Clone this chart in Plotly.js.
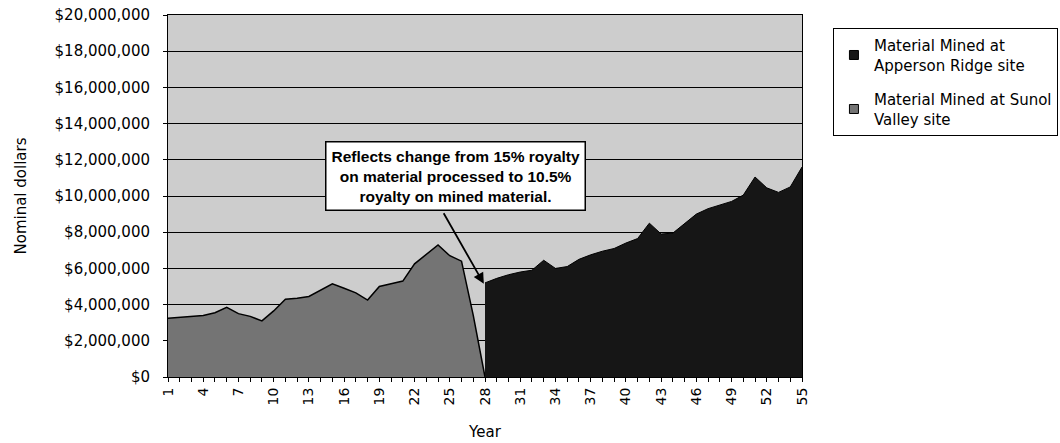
<!DOCTYPE html>
<html>
<head>
<meta charset="utf-8">
<script src="https://cdn.plot.ly/plotly-3.0.1.min.js"></script>
<style>
  html, body { margin: 0; padding: 0; background: #ffffff; }
  #chart { width: 1060px; height: 443px; }
</style>
</head>
<body>
<div id="chart"></div>
<script>
// Sunol Valley site (gray area), years 1-28 (drops to zero at year 28)
var sunolYears = [1, 2, 3, 4, 5, 6, 7, 8, 9, 10, 11, 12, 13, 14, 15, 16, 17, 18, 19, 20, 21, 22, 23, 24, 25, 26, 27, 28];
var sunolValues = [3250000, 3300000, 3350000, 3400000, 3550000, 3850000, 3500000, 3350000, 3100000, 3650000,
                   4300000, 4350000, 4450000, 4800000, 5150000, 4900000, 4650000, 4250000, 5000000, 5150000,
                   5300000, 6250000, 6750000, 7300000, 6700000, 6400000, 3400000, 0];

// Apperson Ridge site (black area), years 28-55
var appersonYears = [28, 29, 30, 31, 32, 33, 34, 35, 36, 37, 38, 39, 40, 41, 42, 43, 44, 45, 46, 47, 48, 49, 50, 51, 52, 53, 54, 55];
var appersonValues = [5200000, 5450000, 5650000, 5800000, 5900000, 6450000, 6000000, 6100000, 6500000, 6750000,
                      6950000, 7100000, 7400000, 7650000, 8500000, 7900000, 7950000, 8500000, 9000000, 9300000,
                      9500000, 9700000, 10050000, 11050000, 10450000, 10200000, 10500000, 11600000];

var xTickVals = [1, 4, 7, 10, 13, 16, 19, 22, 25, 28, 31, 34, 37, 40, 43, 46, 49, 52, 55];
var xTickText = ['1', '4', '7', '10', '13', '16', '19', '22', '25', '28', '31', '34', '37', '40', '43', '46', '49', '52', '55'];

var seriesNames = ['Material Mined at<br>Apperson Ridge site', 'Material Mined at Sunol<br>Valley site'];
var annotationText = 'Reflects change from 15% royalty<br>on material processed to 10.5%<br>royalty on mined material.';

var grayFill = '#747474';
var blackFill = '#161616';
var FONT = 'DejaVu Sans, Liberation Sans, Arial, sans-serif';

var traces = [
  {
    type: 'scatter', mode: 'lines', x: sunolYears, y: sunolValues,
    fill: 'tozeroy', fillcolor: grayFill,
    line: { color: '#000000', width: 1.5 },
    name: seriesNames[1], showlegend: false, hoverinfo: 'skip'
  },
  {
    type: 'scatter', mode: 'lines', x: appersonYears, y: appersonValues,
    fill: 'tozeroy', fillcolor: blackFill,
    line: { color: '#000000', width: 1 },
    name: seriesNames[0], showlegend: false, hoverinfo: 'skip'
  },
  {
    type: 'scatter', mode: 'markers', x: [null], y: [null],
    marker: { symbol: 'square', size: 9, color: blackFill, line: { color: '#000', width: 1 } },
    name: seriesNames[0], legendgroup: 'a', showlegend: true
  },
  {
    type: 'scatter', mode: 'markers', x: [null], y: [null],
    marker: { symbol: 'square', size: 9, color: grayFill, line: { color: '#000', width: 1 } },
    name: seriesNames[1], legendgroup: 'b', showlegend: true
  }
];

var layout = {
  width: 1060, height: 443,
  margin: { l: 168, r: 258, t: 15, b: 66 },
  paper_bgcolor: '#ffffff',
  plot_bgcolor: '#cdcdcd',
  font: { family: FONT, size: 14, color: '#000000' },
  showlegend: true,
  legend: {
    xref: 'container', yref: 'container',
    x: 0.7858, xanchor: 'left', y: 0.9368, yanchor: 'top',
    bgcolor: '#ffffff', bordercolor: '#000000', borderwidth: 1,
    font: { family: FONT, size: 15, color: '#000' },
    tracegroupgap: 12, itemwidth: 30
  },
  xaxis: {
    type: 'linear', range: [1, 55],
    tickmode: 'array', tickvals: xTickVals, ticktext: xTickText,
    tickangle: -90,
    ticks: 'outside', ticklen: 4, tickcolor: '#000', tickwidth: 1,
    minor: { tick0: 1, dtick: 1, ticks: 'outside', ticklen: 4, tickcolor: '#000', tickwidth: 1, showgrid: false },
    showgrid: false, zeroline: false,
    showline: true, linecolor: '#000', linewidth: 1, mirror: true,
    tickfont: { family: FONT, size: 14, color: '#000' },
    title: { text: 'Year', font: { family: FONT, size: 15, color: '#000' }, standoff: 22 }
  },
  yaxis: {
    range: [0, 20000000], dtick: 2000000, tick0: 0,
    tickformat: '$,.0f',
    ticks: 'outside', ticklen: 4, tickcolor: '#000', tickwidth: 1,
    ticklabelstandoff: 10,
    showgrid: true, gridcolor: '#000000', gridwidth: 1,
    zeroline: false,
    showline: true, linecolor: '#000', linewidth: 1, mirror: true,
    tickfont: { family: FONT, size: 15, color: '#000' },
    title: { text: 'Nominal dollars', font: { family: FONT, size: 15, color: '#000' }, standoff: 24 }
  },
  annotations: [
    {
      xref: 'paper', yref: 'paper', x: 0.4527, y: 0.555,
      xanchor: 'center', yanchor: 'middle',
      text: annotationText, showarrow: false, align: 'center',
      font: { family: 'Liberation Sans, Arial, sans-serif', size: 15.5, color: '#000', weight: 'bold' },
      bgcolor: '#ffffff', bordercolor: '#000000', borderwidth: 1.5, borderpad: 5
    },
    {
      xref: 'x', yref: 'y', x: 27.9, y: 5150000,
      ax: -41, ay: -72, text: '', showarrow: true,
      arrowhead: 2, arrowsize: 1.2, arrowwidth: 1.8, arrowcolor: '#000000', standoff: 0
    }
  ]
};

Plotly.newPlot('chart', traces, layout, { displayModeBar: false, staticPlot: true });
</script>
</body>
</html>
